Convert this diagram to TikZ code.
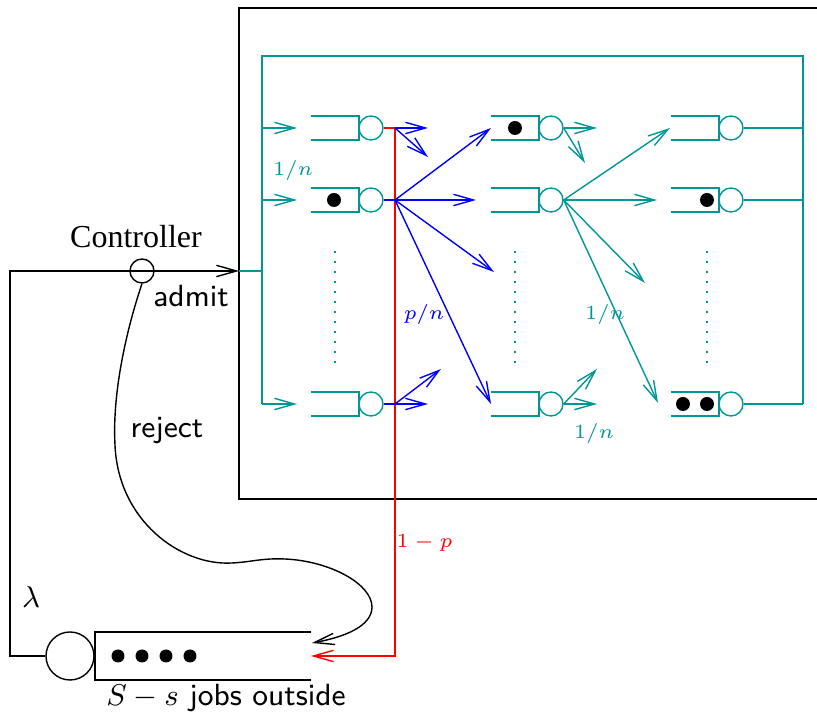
\documentclass[tikz,border=0pt]{standalone}
\usepackage{fontspec}
\newfontfamily\ctrlfont{Liberation Serif}
\usetikzlibrary{arrows.meta}
\definecolor{tealq}{RGB}{0,150,150}
\begin{document}
\begin{tikzpicture}[x=0.3pt,y=-0.3pt,line width=0.42pt,
  >={Straight Barb[length=6pt,width=3.4pt]},
  srv/.style={circle,draw=tealq,minimum size=7.2pt,inner sep=0pt},
  jobdot/.style={circle,fill=black,minimum size=4.2pt,inner sep=0pt},
  lbl/.style={font=\fontsize{6.5}{7}\selectfont,inner sep=0pt},
  txt/.style={font=\fontsize{9.2}{11}\selectfont\sffamily,inner sep=0pt},
  vdots/.style={draw=tealq,line width=0.5pt,dash pattern=on 0.75pt off 2.25pt}]
\useasboundingbox (0,0) rectangle (817,722);
% black system box
\draw (817,8) -- (239,8) -- (239,499) -- (817,499);
% servers and buffers
\foreach \x/\i in {371/1,551/2,731/3}{
  \foreach \y/\j in {128/1,200/2,404/3}{
    \draw[tealq] ({\x-60},{\y-12}) -- ({\x-12},{\y-12}) -- ({\x-12},{\y+12}) -- ({\x-60},{\y+12});
    \node[srv] (s\i\j) at (\x,\y) {};
  }
}
% jobs in the network
\node[jobdot] (d1) at (334,200) {};
\node[jobdot] (d2) at (515,128) {};
\node[jobdot] (d3) at (707,200) {};
\node[jobdot] (d4) at (683,404) {};
\node[jobdot] (d5) at (707,404) {};
% vertical dots
\draw[vdots] (335,251) -- (335,368);
\draw[vdots] (515,251) -- (515,368);
\draw[vdots] (707,251) -- (707,368);
% teal frame
\coordinate (fl1) at (262,128);
\coordinate (fl2) at (262,200);
\coordinate (fl3) at (262,404);
\coordinate (fin) at (262,271);
\coordinate (ftl) at (262,56);
\coordinate (ftr) at (803,56);
\coordinate (fr1) at (803,128);
\coordinate (fr2) at (803,200);
\coordinate (fr3) at (803,404);
\coordinate (boxin) at (239,271);
\draw[tealq] (fl3) -- (ftl) -- (ftr) -- (fr3);
\draw[tealq] (boxin) -- (fin);
\draw[tealq,->] (fl1) -- (297,128);
\draw[tealq,->] (fl2) -- (297,200);
\draw[tealq,->] (fl3) -- (297,404);
\draw[tealq] (s31.east) -- (fr1);
\draw[tealq] (s32.east) -- (fr2);
\draw[tealq] (s33.east) -- (fr3);
% outside queue
\node[circle,draw,minimum size=14.4pt,inner sep=0pt] (osrv) at (70,656) {};
\coordinate (qin) at (311,656);
\draw (311,632) -- (95,632) -- (95,680) -- (311,680);
\foreach \x/\k in {118/1,142/2,166/3,190/4}{\node[jobdot,minimum size=3.9pt] (o\k) at (\x,656) {};}
% controller
\node[circle,draw,minimum size=7.2pt,inner sep=0pt] (ctrl) at (142,271) {};
\draw[->] (osrv.west) -- (10,656) -- (10,271) -- (boxin);
\draw[->] (ctrl.south) .. controls (128,325) and (112,390) .. (115,445)
  .. controls (118,520) and (180,566) .. (232,563)
  .. controls (252,562) and (262,558) .. (285,559)
  .. controls (330,561) and (372,584) .. (372,607)
  .. controls (372,626) and (345,637) .. (312,643);
% red route back outside
\coordinate (b1) at (395,128);
\draw[red,->] (s11.east) -- (b1) -- (395,656) -- (qin);
% blue routes from column 1
\coordinate (b2) at (395,200);
\coordinate (b3) at (395,404);
\draw[blue] (s12.east) -- (b2);
\draw[blue] (s13.east) -- (b3);
\draw[blue,->] (b1) -- (428,128);
\draw[blue,->] (b1) -- (428,157);
\draw[blue,->] (b2) -- (491,128);
\draw[blue,->] (b2) -- (476,200);
\draw[blue,->] (b2) -- (494,272);
\draw[blue,->] (b2) -- (491,404);
\draw[blue,->] (b3) -- (428,404);
\draw[blue,->] (b3) -- (441,369);
% teal routes from column 2
\draw[tealq,->] (s21.east) -- (597,128);
\draw[tealq,->] (s21.east) -- (585,163);
\draw[tealq,->] (s22.east) -- (670,128);
\draw[tealq,->] (s22.east) -- (657,200);
\draw[tealq,->] (s22.east) -- (645,283);
\draw[tealq,->] (s22.east) -- (658,403);
\draw[tealq,->] (s23.east) -- (597,404);
\draw[tealq,->] (s23.east) -- (597,369);
% labels
\node[font=\ctrlfont\fontsize{9.6}{11}\selectfont,anchor=base,inner sep=0pt] (lctrl) at (136,248) {Controller};
\node[txt,anchor=base] (ladmit) at (191,307) {admit};
\node[txt,anchor=base] (lrej) at (167,438) {reject};
\node[txt,anchor=base] (lout) at (226,706) {$S-s$ jobs outside};
\node[font=\fontsize{9.2}{11}\selectfont,inner sep=0pt,anchor=base] (llam) at (31,608) {$\lambda$};
\node[lbl,text=red,anchor=base west] (l1p) at (396,548) {$1-p$};
\node[lbl,text=tealq,anchor=base] (ln1) at (293,176) {$1/n$};
\node[lbl,text=blue,anchor=base] (lpn) at (424,320) {$p/n$};
\node[lbl,text=tealq,anchor=base] (ln2) at (605,320) {$1/n$};
\node[lbl,text=tealq,anchor=base] (ln3) at (594,439) {$1/n$};
\end{tikzpicture}
\end{document}
